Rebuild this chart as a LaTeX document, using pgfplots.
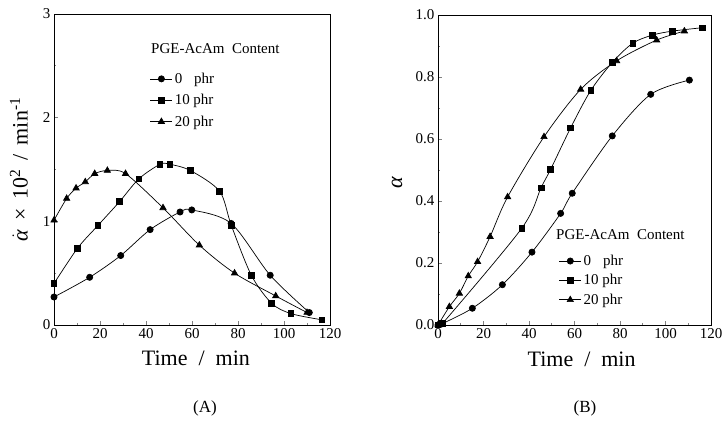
\documentclass[border=0pt]{standalone}
\usepackage{fontspec}
\setmainfont{Liberation Serif}
\usepackage{pgfplots}
\pgfplotsset{compat=1.18}

% cure-rate (A) and conversion (B) data for the three PGE-AcAm loadings
\pgfplotstableread{
t    r
0    0.27
15.5 0.46
29   0.67
41.8 0.92
54.8 1.09
59.9 1.11
77   0.98
94   0.48
111  0.12
}\rateA
\pgfplotstableread{
t     r
0     0.40
10.2  0.74
19.1  0.96
28.5  1.19
36.9  1.41
46.1  1.55
50.4  1.55
59.3  1.49
72    1.29
77.1  0.96
85.8  0.48
94.6  0.21
103   0.11
116.5 0.05
}\rateB
\pgfplotstableread{
t    r
0    1.01
5.5  1.22
9.6  1.32
13.6 1.38
17.7 1.46
23.2 1.49
31.1 1.46
47.4 1.13
63.2 0.77
78.5 0.50
96.4 0.28
110  0.12
}\rateC
\pgfplotstableread{
t     a
0     0
1.5   0.003
15.1  0.054
28.3  0.13
41.3  0.235
53.9  0.36
59    0.425
76.6  0.61
93.5  0.744
110.5 0.79
}\convA
\pgfplotstableread{
t     a
0     0
2     0.005
36.8  0.312
45.3  0.443
49.5  0.502
58.3  0.636
67.1  0.756
76.6  0.847
85.6  0.909
94.2  0.935
103   0.948
116.2 0.959
}\convB
\pgfplotstableread{
t     a
0     0
5     0.059
9.4   0.102
13.3  0.158
17.4  0.204
22.9  0.285
30.6  0.413
46.6  0.607
62.7  0.76
78.5  0.852
96.1  0.919
108.3 0.948
}\convC

\newcommand{\gap}{\hspace{9pt}}

\pgfplotsset{
  kinetics/.style={
    scale only axis,
    anchor=south west,
    axis line style={line width=0.9pt},
    tick pos=left,
    tick align=inside,
    major tick length=4pt,
    minor tick length=2pt,
    tick style={line width=0.7pt},
    xmin=0, xmax=120,
    xtick={0,20,...,120},
    minor x tick num=1,
    minor y tick num=1,
    tick label style={font=\fontsize{15}{15}\selectfont},
    /pgf/number format/assume math mode=true,
    label style={font=\fontsize{22}{22}\selectfont},
    every axis plot/.append style={black, line width=0.7pt, smooth},
    legend style={draw=none, fill=none, inner sep=0pt, outer sep=0pt,
      anchor=north west, font=\fontsize{15}{17}\selectfont,
      legend cell align=left,
      /tikz/every even column/.append style={column sep=6pt}},
    legend image code/.code={
      \draw[mark repeat=2, mark phase=2] plot coordinates {(0pt,0pt) (11pt,0pt) (22pt,0pt)};},
  },
  s0/.style={mark=*, mark size=3.1pt},
  s10/.style={mark=square*, mark size=2.8pt},
  s20/.style={mark=triangle*, mark size=3.6pt},
}

\begin{document}
\begin{tikzpicture}
\useasboundingbox (0,0) rectangle (725pt,428pt);

% (A) rate of conversion
\begin{axis}[kinetics,
  at={(54pt,103pt)}, width=276pt, height=311pt,
  ymin=0, ymax=3, ytick={0,1,2,3},
  xlabel={Time\ \ /\ \ min},
  xlabel style={at={(axis description cs:0.514,-0.106)}, anchor=center},
  ylabel={$\dot{\hbox{\itshape α}}$\gap×\gap10\textsuperscript{2}\gap/\gap min\textsuperscript{-1}},
  ylabel style={at={(axis description cs:-0.127,0.5)}, anchor=center},
  legend style={at={(axis description cs:0.348,0.817)}, row sep=5.5pt},
]
\addplot[s0]  table[x=t,y=r] {\rateA};
\addlegendentry{0\hspace{12pt}phr}
\addplot[s10] table[x=t,y=r] {\rateB};
\addlegendentry{10 phr}
\addplot[s20] table[x=t,y=r] {\rateC};
\addlegendentry{20 phr}
\end{axis}

% (B) degree of conversion
\begin{axis}[kinetics,
  at={(438pt,103pt)}, width=273pt, height=310pt,
  ymin=0, ymax=1, ytick={0,0.2,...,1.0},
  yticklabel style={/pgf/number format/.cd, fixed, fixed zerofill, precision=1},
  xlabel={Time\ \ /\ \ min},
  xlabel style={at={(axis description cs:0.526,-0.11)}, anchor=center},
  ylabel={\textit{α}},
  ylabel style={at={(axis description cs:-0.15,0.46)}, anchor=center},
  legend style={at={(axis description cs:0.443,0.232)}, row sep=3.5pt},
]
\addplot[s0]  table[x=t,y=a] {\convA};
\addlegendentry{0\hspace{12pt}phr}
\addplot[s10] table[x=t,y=a] {\convB};
\addlegendentry{10 phr}
\addplot[s20] table[x=t,y=a] {\convC};
\addlegendentry{20 phr}
\end{axis}

% legend headings and panel letters
\node[anchor=west, font=\fontsize{15}{15}\selectfont, inner sep=0pt] at (151pt,379pt) {PGE-AcAm\ \ Content};
\node[anchor=west, font=\fontsize{15}{15}\selectfont, inner sep=0pt] at (556pt,193pt) {PGE-AcAm\ \ Content};
\node[font=\fontsize{17}{17}\selectfont] at (205pt,20pt) {(A)};
\node[font=\fontsize{17}{17}\selectfont] at (585pt,20pt) {(B)};
\end{tikzpicture}
\end{document}
